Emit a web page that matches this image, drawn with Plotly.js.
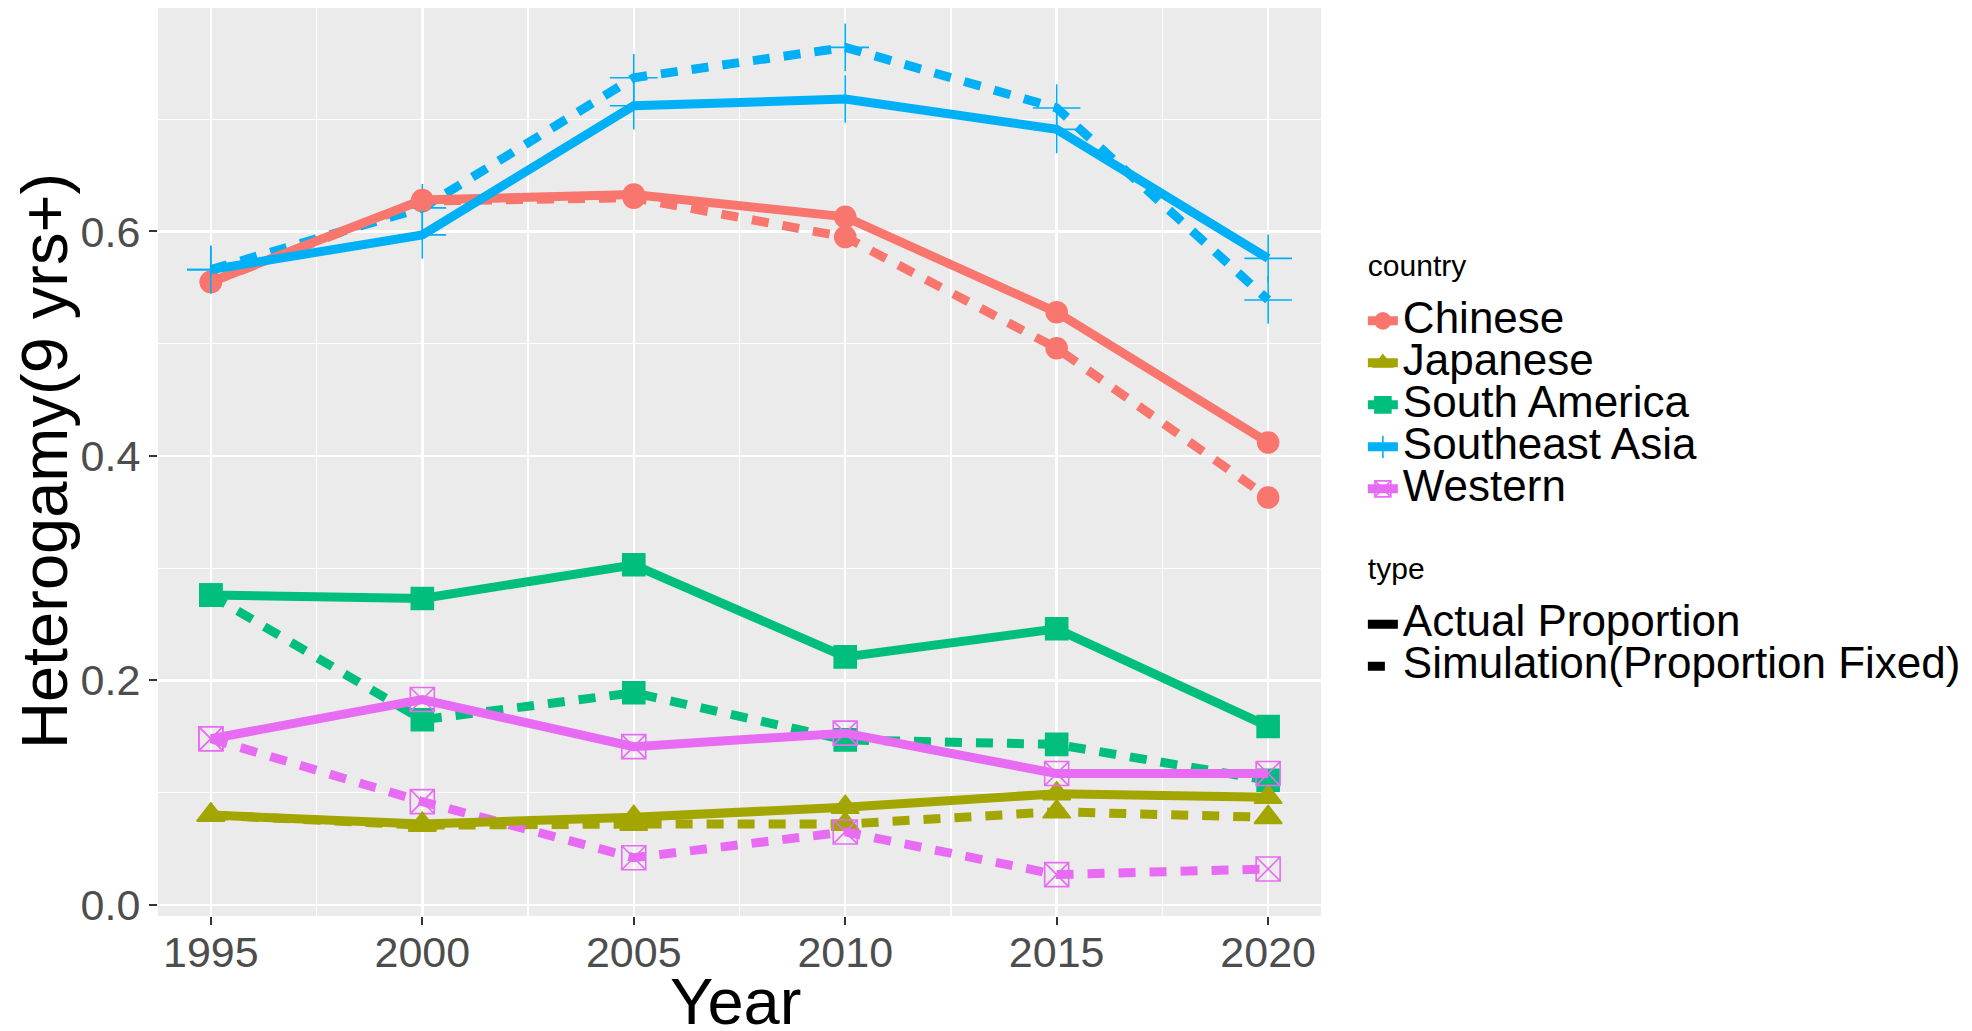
<!DOCTYPE html>
<html>
<head>
<meta charset="utf-8">
<script src="https://cdn.plot.ly/plotly-3.0.1.min.js"></script>
<style>
html,body{margin:0;padding:0;background:#fff;}
#chart{width:1972px;height:1031px;}
</style>
</head>
<body>
<div id="chart"></div>
<script>
// ---- data ----
const years = [1995, 2000, 2005, 2010, 2015, 2020];
const countries = ['Chinese', 'Japanese', 'South America', 'Southeast Asia', 'Western'];
const typeLabels = ['Actual Proportion', 'Simulation(Proportion Fixed)'];

const chineseActual       = [0.555, 0.628, 0.633, 0.613, 0.528, 0.412];
const chineseSim          = [0.555, 0.627, 0.630, 0.595, 0.496, 0.363];
const japaneseActual      = [0.080, 0.072, 0.078, 0.087, 0.099, 0.096];
const japaneseSim         = [0.080, 0.071, 0.072, 0.072, 0.083, 0.078];
const southAmericaActual  = [0.276, 0.273, 0.303, 0.221, 0.246, 0.159];
const southAmericaSim     = [0.276, 0.165, 0.189, 0.147, 0.143, 0.111];
const southeastAsiaActual = [0.566, 0.597, 0.712, 0.718, 0.691, 0.576];
const southeastAsiaSim    = [0.566, 0.621, 0.737, 0.764, 0.710, 0.539];
const westernActual       = [0.148, 0.183, 0.141, 0.153, 0.117, 0.117];
const westernSim          = [0.148, 0.092, 0.042, 0.065, 0.027, 0.032];

const xTickLabels = ['1995', '2000', '2005', '2010', '2015', '2020'];
const yTickVals = [0.0, 0.2, 0.4, 0.6];
const yTickLabels = ['0.0', '0.2', '0.4', '0.6'];
const xTitle = 'Year';
const yTitle = 'Heterogamy(9 yrs+)';
const legendTitles = ['country', 'type'];

// ---- styles ----
const colors = ['#F8766D', '#A3A500', '#00BF7D', '#00B0F6', '#E76BF3'];
const symbols = ['circle', 'triangle-up', 'square', 'cross-thin-open', 'square-x-open'];
const sizes = [21, 24, 22, 34, 24];
const actualSeries = [chineseActual, japaneseActual, southAmericaActual, southeastAsiaActual, westernActual];
const simSeries = [chineseSim, japaneseSim, southAmericaSim, southeastAsiaSim, westernSim];
const LW = 9;
const DASH = '17px,14px';

const traces = [];
for (let i = 0; i < countries.length; i++) {
  traces.push({
    type: 'scatter', mode: 'lines+markers', x: years, y: simSeries[i],
    name: countries[i] + ' sim', showlegend: false, hoverinfo: 'x+y',
    line: {color: colors[i], width: LW, dash: DASH},
    marker: {color: colors[i], symbol: symbols[i], size: sizes[i], line: {color: colors[i], width: 1.6}}
  });
}
for (let i = 0; i < countries.length; i++) {
  traces.push({
    type: 'scatter', mode: 'lines+markers', x: years, y: actualSeries[i],
    name: countries[i], showlegend: false, hoverinfo: 'x+y',
    line: {color: colors[i], width: LW},
    marker: {color: colors[i], symbol: symbols[i], size: sizes[i], line: {color: colors[i], width: 1.6}}
  });
}
// legend entries
const LEGTXT = 44;
const GT = 14.4; // group-title box sizing
const groupTitle = t => '<span style="font-size:30px">' + t + '</span><br>&nbsp;';
for (let i = 0; i < countries.length; i++) {
  traces.push({
    type: 'scatter', mode: 'lines+markers', x: [null], y: [null],
    name: '<span style="font-size:' + LEGTXT + 'px">' + countries[i] + '</span>',
    legendgroup: 'country', showlegend: true,
    legendgrouptitle: {text: groupTitle(legendTitles[0]), font: {size: GT, color: '#000'}},
    line: {color: colors[i], width: LW},
    marker: {color: colors[i], symbol: symbols[i], size: 16, line: {color: colors[i], width: 1.6}}
  });
}
for (let j = 0; j < typeLabels.length; j++) {
  traces.push({
    type: 'scatter', mode: 'lines', x: [null], y: [null],
    name: '<span style="font-size:' + LEGTXT + 'px">' + typeLabels[j] + '</span>',
    legendgroup: 'type', showlegend: true,
    legendgrouptitle: {text: groupTitle(legendTitles[1]), font: {size: GT, color: '#000'}},
    line: {color: '#000', width: LW, dash: j === 0 ? 'solid' : DASH}
  });
}

const FONT = 'Liberation Sans, Arial, sans-serif';
const layout = {
  width: 1972, height: 1031,
  paper_bgcolor: '#FFFFFF', plot_bgcolor: '#EBEBEB',
  margin: {l: 158, r: 649, t: 6, b: 115, pad: 0},
  font: {family: FONT, color: '#000'},
  showlegend: true,
  xaxis: {
    range: [1993.75, 2021.25], tickvals: years, ticktext: xTickLabels,
    showgrid: true, gridcolor: '#FFFFFF', gridwidth: 2.4, zeroline: false, showline: false,
    ticks: 'outside', ticklen: 8, tickwidth: 2, tickcolor: '#333333',
    ticklabelstandoff: -10,
    tickfont: {size: 43, color: '#4D4D4D', family: FONT},
    minor: {dtick: 2.5, tick0: 1995, showgrid: true, gridcolor: '#FFFFFF', gridwidth: 1.2, ticks: ''}
  },
  yaxis: {
    range: [-0.0099, 0.8009], tickvals: yTickVals, ticktext: yTickLabels,
    showgrid: true, gridcolor: '#FFFFFF', gridwidth: 2.4, zeroline: false, showline: false,
    ticks: 'outside', ticklen: 8, tickwidth: 2, tickcolor: '#333333',
    tickfont: {size: 43, color: '#4D4D4D', family: FONT},
    minor: {dtick: 0.1, tick0: 0, showgrid: true, gridcolor: '#FFFFFF', gridwidth: 1.2, ticks: ''}
  },
  annotations: [
    {
      text: yTitle, textangle: -90, showarrow: false,
      xref: 'paper', yref: 'paper', x: -0.098, y: 0.5, xanchor: 'center', yanchor: 'middle',
      font: {size: 65, color: '#000', family: FONT}
    },
    {
      text: xTitle, showarrow: false,
      xref: 'paper', yref: 'paper', x: 0.4966, y: -0.094, xanchor: 'center', yanchor: 'middle',
      font: {size: 65, color: '#000', family: FONT}
    }
  ],
  legend: {
    x: 1.036, xanchor: 'left', y: 0.727, yanchor: 'top',
    traceorder: 'grouped', tracegroupgap: 53,
    font: {size: 30, color: '#000', family: FONT},
    bgcolor: 'rgba(0,0,0,0)', borderwidth: 0
  }
};

Plotly.newPlot('chart', traces, layout, {staticPlot: true, displayModeBar: false});
</script>
</body>
</html>
